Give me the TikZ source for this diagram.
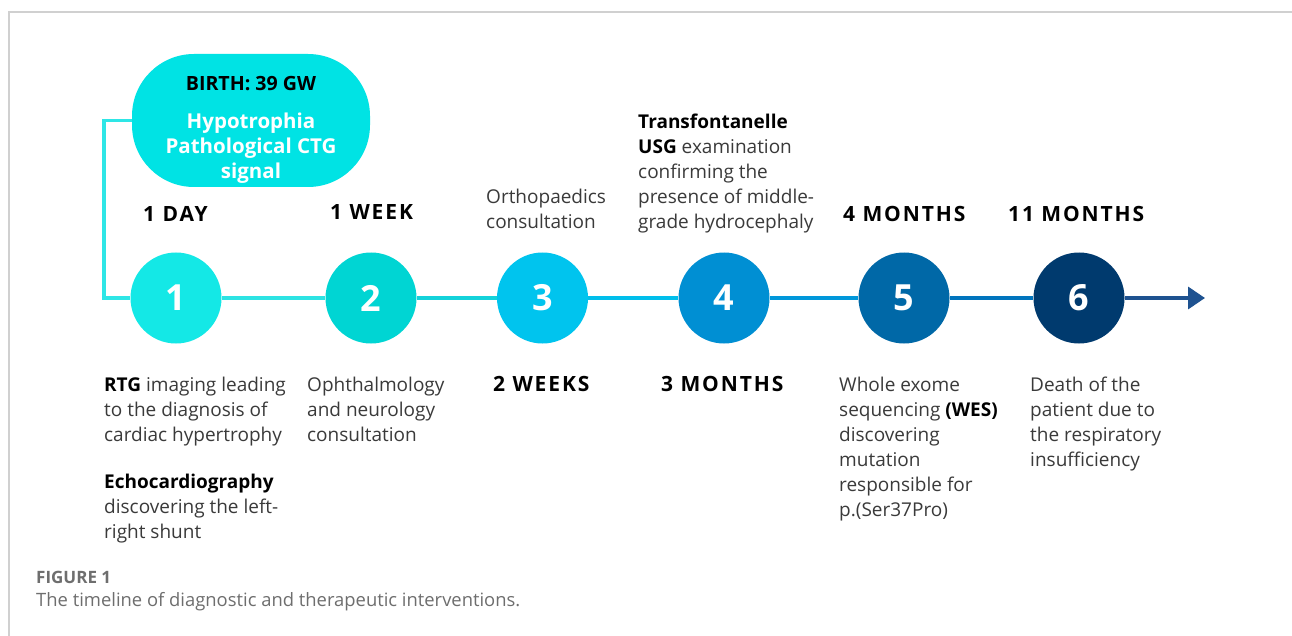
\documentclass[tikz,border=0pt]{standalone}
\usepackage{fontspec}
\setmainfont{Open Sans}
\usetikzlibrary{arrows.meta}
\definecolor{framegray}{HTML}{D0D0D0}
\definecolor{txtgray}{HTML}{3A3A3A}
\definecolor{capgray}{HTML}{6E6E6E}
\definecolor{pillcyan}{HTML}{00E3E4}
\definecolor{cA}{HTML}{14E8E6}
\definecolor{cB}{HTML}{00D5D3}
\definecolor{cC}{HTML}{00C4EE}
\definecolor{cD}{HTML}{008FD3}
\definecolor{cE}{HTML}{0068A7}
\definecolor{cF}{HTML}{003A6E}
\definecolor{l0}{HTML}{2EE6E6}
\definecolor{l12}{HTML}{2DE3E3}
\definecolor{l23}{HTML}{14D2DA}
\definecolor{l34}{HTML}{00BEEB}
\definecolor{l45}{HTML}{0097DA}
\definecolor{l56}{HTML}{0074BD}
\definecolor{l6}{HTML}{1E5290}
\newcommand{\bk}[1]{\textcolor{black}{\bfseries #1}}
\tikzset{
  desc/.style={anchor=base west, align=left, inner sep=0pt, text=txtgray,
    font=\fontsize{19}{25}\selectfont},
  lbl/.style={anchor=base west, inner sep=0pt, text=black,
    font=\fontsize{21}{24}\selectfont\bfseries\addfontfeatures{LetterSpace=9}},
  stepcirc/.style={circle, minimum size=91pt, inner sep=0pt, text=white,
    font=\fontsize{36}{36}\selectfont\bfseries},
  seg/.style={line width=3.5pt},
  pill/.style={rectangle, rounded corners=62pt, fill=pillcyan, minimum width=238pt,
    minimum height=133pt, inner sep=0pt},
  captext/.style={anchor=base west, inner sep=0pt, text=capgray, font=\fontsize{18.4}{22}\selectfont},
}
\begin{document}
\begin{tikzpicture}[x=1pt,y=-1pt]
\useasboundingbox (0,0) rectangle (1292,636);
\fill[white] (0,0) rectangle (1292,636);
\draw[framegray, line width=1.3pt] (9,636) -- (9,12) -- (1292,12);

% pill
\node[pill] (birth) at (251,120.5) {};
\node[anchor=base, inner sep=0pt, text=black, font=\fontsize{19.6}{25}\selectfont\bfseries] (birthhead) at (251,91) {BIRTH: 39 GW};
\node[anchor=base, inner sep=0pt, align=center, text=white, font=\fontsize{20.5}{25}\selectfont\bfseries] (birthbody) at (251,179) {Hypotrophia\\Pathological CTG\\signal};

% circles
\node[stepcirc, fill=cA] (c1) at (176,298) {1};
\node[stepcirc, fill=cB] (c2) at (371,298) {2};
\node[stepcirc, fill=cC] (c3) at (542.5,298) {3};
\node[stepcirc, fill=cD] (c4) at (724,298) {4};
\node[stepcirc, fill=cE] (c5) at (904,298) {5};
\node[stepcirc, fill=cF] (c6) at (1079,298) {6};

% connectors
\coordinate (corner) at (104,298);
\coordinate (tip) at (1205,298);
\draw[seg, draw=l0] (birth.west) -| (corner) -- (c1);
\draw[seg, draw=l12] (c1) -- (c2);
\draw[seg, draw=l23] (c2) -- (c3);
\draw[seg, draw=l34] (c3) -- (c4);
\draw[seg, draw=l45] (c4) -- (c5);
\draw[seg, draw=l56] (c5) -- (c6);
\draw[seg, draw=l6, -{Triangle[length=17pt,width=22pt]}] (c6) -- (tip);

% top labels (base = last line's baseline)
\node[lbl] (d1) at (143,222) {1 DAY};
\node[lbl] (w1) at (330,220) {1 WEEK};
\node[desc] (ortho) at (486,229) {Orthopaedics\\consultation};
\node[desc] (trans) at (638,229) {\bk{Transfontanelle}\\\bk{USG} examination\\confirming the\\presence of middle-\\grade hydrocephaly};
\node[lbl] (m4) at (843,222) {4 MONTHS};
\node[lbl] (m11) at (1008,222) {11 MONTHS};

% bottom labels
\node[desc] (rtg) at (104,441) {\bk{RTG} imaging leading\\to the diagnosis of\\cardiac hypertrophy};
\node[desc] (echo) at (104,538) {\bk{Echocardiography}\\discovering the left-\\right shunt};
\node[desc] (oph) at (307,441) {Ophthalmology\\and neurology\\consultation};
\node[lbl] (wk2) at (493,391) {2 WEEKS};
\node[lbl] (m3) at (661,391) {3 MONTHS};
\node[desc] (wes) at (839,516) {Whole exome\\sequencing \bk{(WES)}\\discovering\\mutation\\responsible for\\p.(Ser37Pro)};
\node[desc] (death) at (1030,466) {Death of the\\patient due to\\the respiratory\\insufficiency};

% caption
\node[captext, font=\fontsize{17}{22}\selectfont\bfseries] (figlbl) at (36,583) {FIGURE 1};
\node[captext] (figcap) at (36,606) {The timeline of diagnostic and therapeutic interventions.};
\end{tikzpicture}
\end{document}
